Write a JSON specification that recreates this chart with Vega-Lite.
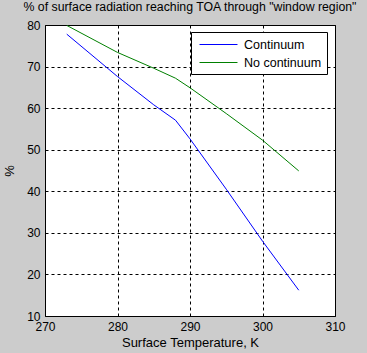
{
  "$schema": "https://vega.github.io/schema/vega-lite/v6.json",
  "width": 290,
  "height": 291,
  "autosize": {"type": "none"},
  "padding": {"left": 45, "top": 25, "right": 32, "bottom": 37},
  "background": "#CCCCCC",
  "title": {
    "text": "% of surface radiation reaching TOA through \"window region\"",
    "fontSize": 12.3,
    "font": "Liberation Sans",
    "fontWeight": "normal",
    "color": "#000000",
    "offset": 6,
    "anchor": "middle"
  },
  "config": {
    "view": {"stroke": "#000000", "strokeWidth": 1, "fill": "#FFFFFF"},
    "font": "Liberation Sans",
    "axis": {
      "labelFont": "Liberation Sans",
      "labelFontSize": 12,
      "labelColor": "#000000",
      "titleFont": "Liberation Sans",
      "titleFontSize": 13,
      "titleFontWeight": "normal",
      "titleColor": "#000000",
      "domain": false,
      "ticks": false,
      "grid": true,
      "gridColor": "#000000",
      "gridOpacity": 1,
      "gridDash": [3, 3],
      "gridWidth": 1
    }
  },
  "data": {
    "values": [
      {"T": 273, "pct": 77.8, "series": "Continuum"},
      {"T": 280, "pct": 67.6, "series": "Continuum"},
      {"T": 285, "pct": 60.8, "series": "Continuum"},
      {"T": 288, "pct": 57.1, "series": "Continuum"},
      {"T": 290, "pct": 52.6, "series": "Continuum"},
      {"T": 295, "pct": 40.5, "series": "Continuum"},
      {"T": 300, "pct": 28.0, "series": "Continuum"},
      {"T": 305, "pct": 16.2, "series": "Continuum"},
      {"T": 273, "pct": 79.9, "series": "No continuum"},
      {"T": 280, "pct": 73.4, "series": "No continuum"},
      {"T": 285, "pct": 69.6, "series": "No continuum"},
      {"T": 288, "pct": 67.2, "series": "No continuum"},
      {"T": 290, "pct": 64.9, "series": "No continuum"},
      {"T": 295, "pct": 58.7, "series": "No continuum"},
      {"T": 300, "pct": 52.3, "series": "No continuum"},
      {"T": 305, "pct": 44.9, "series": "No continuum"}
    ]
  },
  "mark": {"type": "line", "strokeWidth": 1, "clip": true},
  "encoding": {
    "x": {
      "field": "T",
      "type": "quantitative",
      "scale": {"domain": [270, 310], "nice": false, "zero": false},
      "axis": {"values": [270, 280, 290, 300, 310], "title": "Surface Temperature, K", "labelPadding": 5, "titlePadding": 4, "labelFlush": false}
    },
    "y": {
      "field": "pct",
      "type": "quantitative",
      "scale": {"domain": [10, 80], "nice": false, "zero": false},
      "axis": {"values": [10, 20, 30, 40, 50, 60, 70, 80], "title": "%", "labelPadding": 5, "titlePadding": 10, "labelFlush": false}
    },
    "color": {
      "field": "series",
      "type": "nominal",
      "scale": {"domain": ["Continuum", "No continuum"], "range": ["#0000FF", "#008000"]},
      "legend": {
        "title": null,
        "orient": "none",
        "legendX": 146,
        "legendY": 7,
        "fillColor": "#FFFFFF",
        "strokeColor": "#000000",
        "padding": 5,
        "symbolType": "M-0.571,0H4.857",
        "symbolSize": 196,
        "symbolStrokeWidth": 1,
        "labelFont": "Liberation Sans",
        "labelFontSize": 12.5,
        "labelColor": "#000000",
        "labelOffset": 33,
        "labelExpr": "datum.label + '\u00a0\u00a0'",
        "rowPadding": 4
      }
    }
  }
}
